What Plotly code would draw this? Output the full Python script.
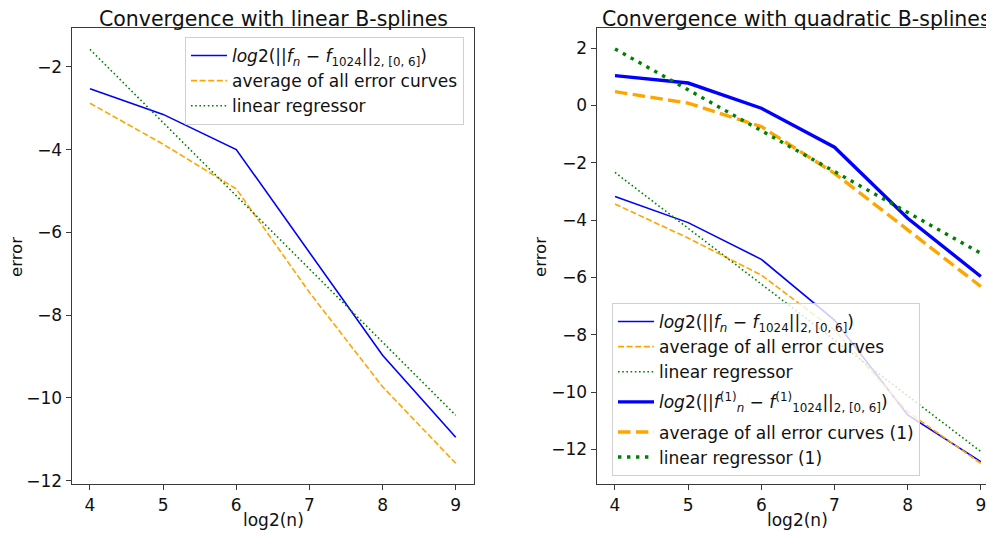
import plotly.graph_objects as go

# ---- data ----
log2_n = [4, 5, 6, 7, 8, 9]

# left panel: linear B-splines
lin_error = [-2.53, -3.15, -4.00, -6.48, -8.97, -10.95]
lin_average = [-2.88, -3.87, -4.95, -7.45, -9.73, -11.58]
lin_regressor = [-1.58, -3.35, -5.12, -6.88, -8.65, -10.42]

# right panel: quadratic B-splines
quad_error = [-3.18, -4.09, -5.37, -7.49, -10.80, -12.43]
quad_average = [-3.44, -4.63, -5.92, -7.84, -10.69, -12.49]
quad_regressor = [-2.34, -4.29, -6.24, -8.19, -10.13, -12.08]
quad_error_d1 = [1.04, 0.78, -0.10, -1.46, -3.94, -5.97]
quad_average_d1 = [0.48, 0.08, -0.74, -2.37, -4.34, -6.32]
quad_regressor_d1 = [1.97, 0.54, -0.88, -2.31, -3.73, -5.16]

left_yticks = [-12, -10, -8, -6, -4, -2]
right_yticks = [-12, -10, -8, -6, -4, -2, 0, 2]
xticks = [4, 5, 6, 7, 8, 9]

titles = ["Convergence with linear B-splines", "Convergence with quadratic B-splines"]
name_err = "<i>log</i>2(||<i>f<sub>n</sub></i> − <i>f</i><sub>1024</sub>||<sub>2, [0, 6]</sub>)"
name_err1 = ("<i>log</i>2(||<i>f</i><sup>(1)</sup><sub><i>n</i></sub> − "
             "<i>f</i><sup>(1)</sup><sub>1024</sub>||<sub>2, [0, 6]</sub>)")
name_avg = "average of all error curves"
name_reg = "linear regressor"

# the page body has an 8px margin, so the figure is drawn 8px in from the window corner
OFF = 8
W, H = 994 - OFF, 538 - OFF
FONT = "DejaVu Sans"
BLUE, ORANGE, GREEN = "#0000ff", "#ffa500", "#008000"
THIN, THICK = 1.6, 3.4
AX = "#3a3a3a"


def px(x):
    return (x - OFF) / W


def py(y):
    return 1 - (y - OFF) / H


fig = go.Figure()

# left
fig.add_trace(go.Scatter(x=log2_n, y=lin_error, mode="lines", name=name_err,
                         line=dict(color=BLUE, width=THIN), xaxis="x", yaxis="y", legend="legend"))
fig.add_trace(go.Scatter(x=log2_n, y=lin_average, mode="lines", name=name_avg,
                         line=dict(color=ORANGE, width=THIN, dash="6px,2.6px"), xaxis="x", yaxis="y", legend="legend"))
fig.add_trace(go.Scatter(x=log2_n, y=lin_regressor, mode="lines", name=name_reg,
                         line=dict(color=GREEN, width=THIN, dash="1.6px,2.6px"), xaxis="x", yaxis="y", legend="legend"))

# right
fig.add_trace(go.Scatter(x=log2_n, y=quad_error, mode="lines", name=name_err, legendgroup="g1",
                         line=dict(color=BLUE, width=THIN), xaxis="x2", yaxis="y2", legend="legend2"))
fig.add_trace(go.Scatter(x=log2_n, y=quad_average, mode="lines", name=name_avg, legendgroup="g1",
                         line=dict(color=ORANGE, width=THIN, dash="6px,2.6px"), xaxis="x2", yaxis="y2", legend="legend2"))
fig.add_trace(go.Scatter(x=log2_n, y=quad_regressor, mode="lines", name=name_reg, legendgroup="g1",
                         line=dict(color=GREEN, width=THIN, dash="1.6px,2.6px"), xaxis="x2", yaxis="y2", legend="legend2"))
fig.add_trace(go.Scatter(x=log2_n, y=quad_error_d1, mode="lines", name=name_err1, legendgroup="g2",
                         line=dict(color=BLUE, width=THICK), xaxis="x2", yaxis="y2", legend="legend2"))
fig.add_trace(go.Scatter(x=log2_n, y=quad_average_d1, mode="lines", name=name_avg + " (1)", legendgroup="g3",
                         line=dict(color=ORANGE, width=THICK, dash="12.5px,5.4px"), xaxis="x2", yaxis="y2", legend="legend2"))
fig.add_trace(go.Scatter(x=log2_n, y=quad_regressor_d1, mode="lines", name=name_reg + " (1)", legendgroup="g3",
                         line=dict(color=GREEN, width=THICK, dash="3.4px,5.6px"), xaxis="x2", yaxis="y2", legend="legend2"))

axis_common = dict(showgrid=False, zeroline=False, showline=True, linecolor=AX, linewidth=1.2,
                   ticks="outside", ticklen=5, tickwidth=1.2, tickcolor=AX, automargin=False,
                   tickfont=dict(family=FONT, size=17, color="#111"))

ytop, ybot = py(28.3), py(484)

fig.update_layout(
    width=W, height=H,
    margin=dict(l=0, r=0, t=0, b=0),
    paper_bgcolor="white", plot_bgcolor="white",
    font=dict(family=FONT, color="#111"),
    xaxis=dict(domain=[px(71.7), px(474)], range=[3.75, 9.25], tickvals=xticks,
               mirror=True, anchor="y", **axis_common),
    yaxis=dict(domain=[ybot, ytop], range=[-12.08, -1.07], tickvals=left_yticks,
               mirror=True, anchor="x", **axis_common),
    xaxis2=dict(domain=[px(596.7), 1.0], range=[3.75, 9.18], tickvals=xticks,
                mirror=True, anchor="y2", **axis_common),
    yaxis2=dict(domain=[ybot, ytop], range=[-13.21, 2.69], tickvals=right_yticks,
                mirror=False, anchor="x2", **axis_common),
    legend=dict(x=px(185), y=py(37), xanchor="left", yanchor="top",
                bgcolor="rgba(255,255,255,0.8)", bordercolor="#d0d0d0", borderwidth=1,
                font=dict(family=FONT, size=17, color="#111"), itemwidth=36,
                tracegroupgap=0),
    legend2=dict(x=px(612), y=py(476), xanchor="left", yanchor="bottom",
                 bgcolor="rgba(255,255,255,0.8)", bordercolor="#d0d0d0", borderwidth=1,
                 font=dict(family=FONT, size=17, color="#111"), itemwidth=36,
                 tracegroupgap=5, traceorder="grouped"),
    showlegend=True,
)

annotations = [
    dict(text=titles[0], x=px(273), y=py(18.5), font=dict(size=20.5)),
    dict(text=titles[1], x=px(796), y=py(18.5), font=dict(size=20.5)),
    dict(text="log2(n)", x=px(273), y=py(520), font=dict(size=17)),
    dict(text="log2(n)", x=px(797), y=py(520), font=dict(size=17)),
    dict(text="error", x=px(16), y=py(257), font=dict(size=16.5), textangle=-90),
    dict(text="error", x=px(540), y=py(257), font=dict(size=16.5), textangle=-90),
]
for a in annotations:
    a.update(xref="paper", yref="paper", xanchor="center", yanchor="middle", showarrow=False)
    a["font"].update(family=FONT, color="#111")
fig.update_layout(annotations=annotations)

fig.write_html("out.html")
